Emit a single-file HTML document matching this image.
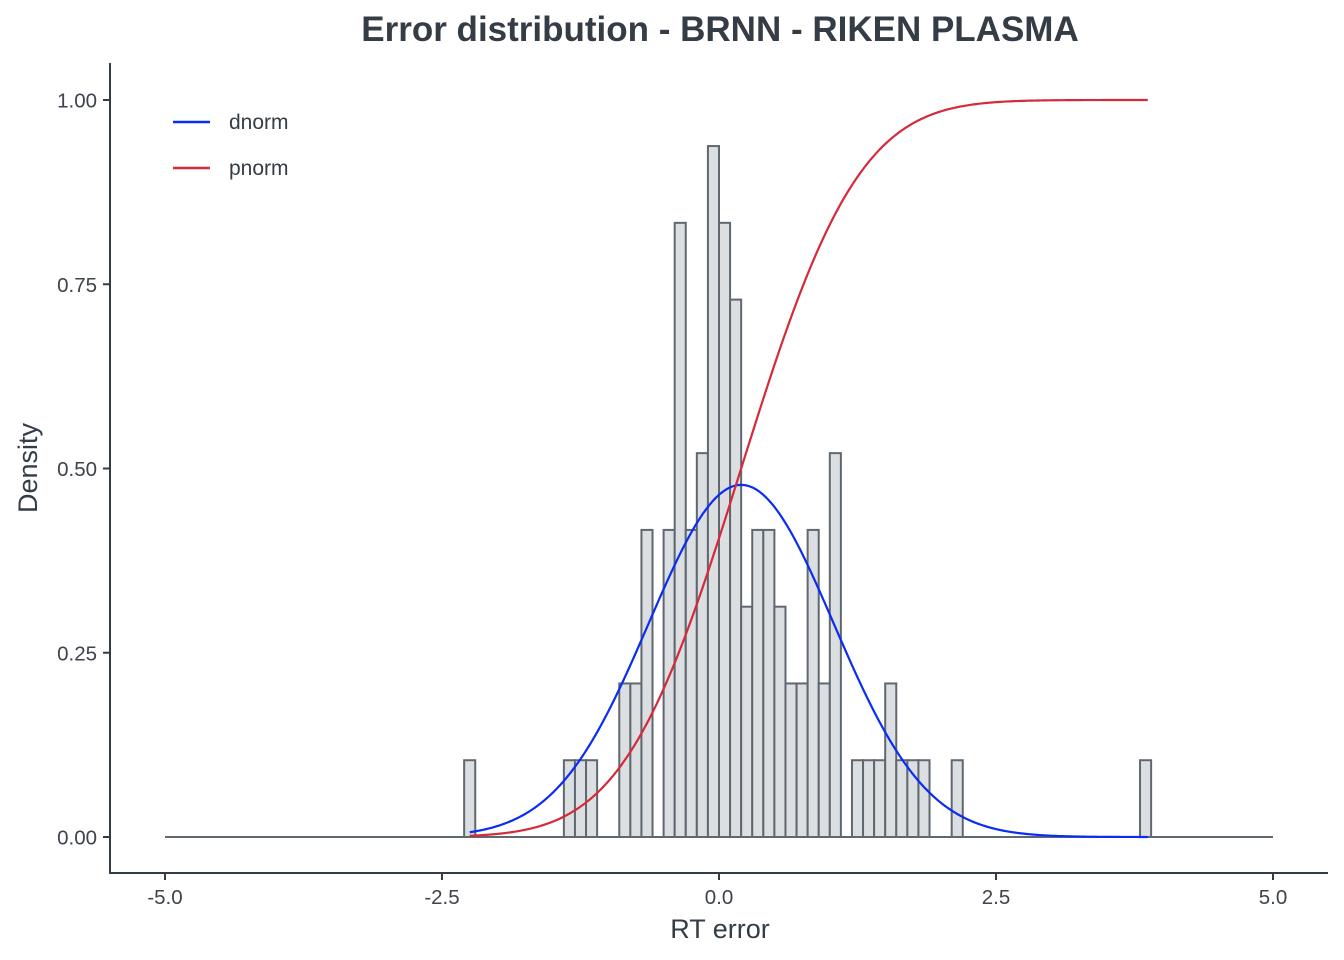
<!DOCTYPE html>
<html><head><meta charset="utf-8"><style>
body{margin:0;background:#fff}
svg{display:block;font-family:"Liberation Sans",sans-serif}
</style></head><body>
<svg id="chart" width="1344" height="960">
<text x="720" y="41" text-anchor="middle" font-size="35" font-weight="bold" fill="#343c45">Error distribution - BRNN - RIKEN PLASMA</text>
<g id="plot"></g>
<line x1="110" y1="63" x2="110" y2="874" stroke="#343c45" stroke-width="2"/>
<line x1="109" y1="873" x2="1328" y2="873" stroke="#343c45" stroke-width="2"/>
<g id="ticks"></g>
<text x="720" y="938" text-anchor="middle" font-size="27" fill="#343c45">RT error</text>
<text transform="translate(37,468) rotate(-90)" text-anchor="middle" font-size="27" fill="#343c45">Density</text>
<g>
<line x1="173" y1="122" x2="210" y2="122" stroke="#0a2cf5" stroke-width="2.5"/>
<text x="229" y="129" font-size="21" fill="#343c45">dnorm</text>
<line x1="173" y1="168" x2="210" y2="168" stroke="#d42a3a" stroke-width="2.5"/>
<text x="229" y="175" font-size="21" fill="#343c45">pnorm</text>
</g>
</svg>
<script>
const binStart = -2.3;
const binWidth = 0.1;
const counts = [1,0,0,0,0,0,0,0,0,1,1,1,0,0,2,2,4,0,4,8,4,5,9,8,7,3,4,4,3,2,2,4,2,5,0,1,1,1,2,1,1,1,0,0,1,0,0,0,0,0,0,0,0,0,0,0,0,0,0,0,0,1];
const sampleSize = 96;
const fitMean = 0.2;
const fitSd = 0.835;
const dataMin = -2.25;
const dataMax = 3.87;
const xTicks = [-5,-2.5,0,2.5,5];
const xTickLabels = ["-5.0","-2.5","0.0","2.5","5.0"];
const yTicks = [0,0.25,0.5,0.75,1];
const yTickLabels = ["0.00","0.25","0.50","0.75","1.00"];

const NS="http://www.w3.org/2000/svg";
const X=v=>165+(v+5)*110.8;
const Y=v=>837-v*737;
const plot=document.getElementById('plot');
const ticks=document.getElementById('ticks');
function mk(tag,attrs,parent){const e=document.createElementNS(NS,tag);for(const k in attrs)e.setAttribute(k,attrs[k]);parent.appendChild(e);return e;}

const base=mk('line',{x1:X(-5),y1:Y(0),x2:X(5),y2:Y(0),stroke:'#5f6870','stroke-width':2},plot);


counts.forEach((c,i)=>{
  if(!c)return;
  const x0=binStart+i*binWidth, d=c/(sampleSize*binWidth);
  const r=mk('rect',{x:X(x0),y:Y(d),width:X(x0+binWidth)-X(x0),height:Y(0)-Y(d),fill:'#dcdfe2',stroke:'#5f6870','stroke-width':2},plot);
  
  
});
function erf(x){const s=Math.sign(x);x=Math.abs(x);const t=1/(1+0.3275911*x);const y=1-(((((1.061405429*t-1.453152027)*t)+1.421413741)*t-0.284496736)*t+0.254829592)*t*Math.exp(-x*x);return s*y;}
let dp='',pp='';
for(let k=0;k<=300;k++){
  const x=dataMin+(dataMax-dataMin)*k/300;
  const z=(x-fitMean)/fitSd;
  const dn=Math.exp(-z*z/2)/(fitSd*Math.sqrt(2*Math.PI));
  const pn=0.5*(1+erf(z/Math.SQRT2));
  dp+=(k?'L':'M')+X(x).toFixed(2)+','+Y(dn).toFixed(2);
  pp+=(k?'L':'M')+X(x).toFixed(2)+','+Y(pn).toFixed(2);
}
const dl=mk('path',{d:dp,fill:'none',stroke:'#0a2cf5','stroke-width':2.2},plot);


const pl=mk('path',{d:pp,fill:'none',stroke:'#d42a3a','stroke-width':2.2},plot);



xTicks.forEach((v,i)=>{
  const t=mk('line',{x1:X(v),y1:873,x2:X(v),y2:880,stroke:'#343c45','stroke-width':2},ticks);
  
  
  const l=mk('text',{x:X(v),y:904,'text-anchor':'middle','font-size':20.5,fill:'#3d444d'},ticks);
  l.textContent=xTickLabels[i];
  
  
});
yTicks.forEach((v,i)=>{
  const t=mk('line',{x1:103,y1:Y(v),x2:110,y2:Y(v),stroke:'#343c45','stroke-width':2},ticks);
  
  
  const l=mk('text',{x:97,y:Y(v)+7.5,'text-anchor':'end','font-size':20.5,fill:'#3d444d'},ticks);
  l.textContent=yTickLabels[i];
  
  
});
</script>
</body></html>
